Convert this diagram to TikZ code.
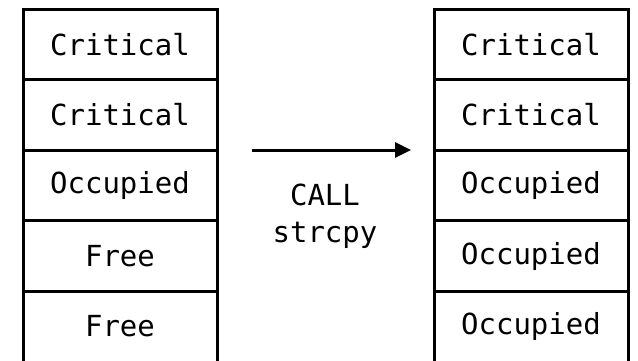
\documentclass[tikz,border=0pt]{standalone}
\usepackage{fontspec}
\setmonofont{DejaVu Sans Mono}
\usetikzlibrary{arrows.meta}
\begin{document}
\begin{tikzpicture}[x=1pt,y=-1pt,
  cell/.style={draw=black, line width=3pt, minimum width=194pt, minimum height=70.5pt,
    inner sep=0pt, font=\ttfamily\fontsize{29}{37}\selectfont},
  opencell/.style={cell, draw=none, outer sep=0pt},
  side/.style={line width=3pt, shorten >=-12pt},
  lbl/.style={font=\ttfamily\fontsize{29}{37}\selectfont, align=center, inner sep=0pt},
  flow/.style={line width=3pt, -{Triangle[length=16pt,width=15pt]}}]
\useasboundingbox[fill=white] (0,0) rectangle (638,360);
\clip (0,0) rectangle (638,360);
% memory before the call
\node[cell] (l1) at (120,44.5)  {Critical};
\node[cell] (l2) at (120,115)   {Critical};
\node[cell] (l3) at (120,185.5) {Occupied};
\node[cell] (l4) at (120,256)   {Free};
\node[opencell] (l5) at (120,326.5) {Free};
% memory after the call
\node[cell] (r1) at (531,44.5)  {Critical};
\node[cell] (r2) at (531,115)   {Critical};
\node[cell] (r3) at (531,185.5) {Occupied};
\node[cell] (r4) at (531,256)   {Occupied};
\node[opencell] (r5) at (531,326.5) {Occupied};
% the lowest cells stay open below
\draw[side] (l5.north west) -- (l5.south west);
\draw[side] (l5.north east) -- (l5.south east);
\draw[side] (r5.north west) -- (r5.south west);
\draw[side] (r5.north east) -- (r5.south east);
% the call
\coordinate (from) at (252,150);
\coordinate (to) at (411,150);
\draw[flow] (from) -- (to);
\node[lbl] (call) at (325,216) {CALL\\strcpy};
\end{tikzpicture}
\end{document}
